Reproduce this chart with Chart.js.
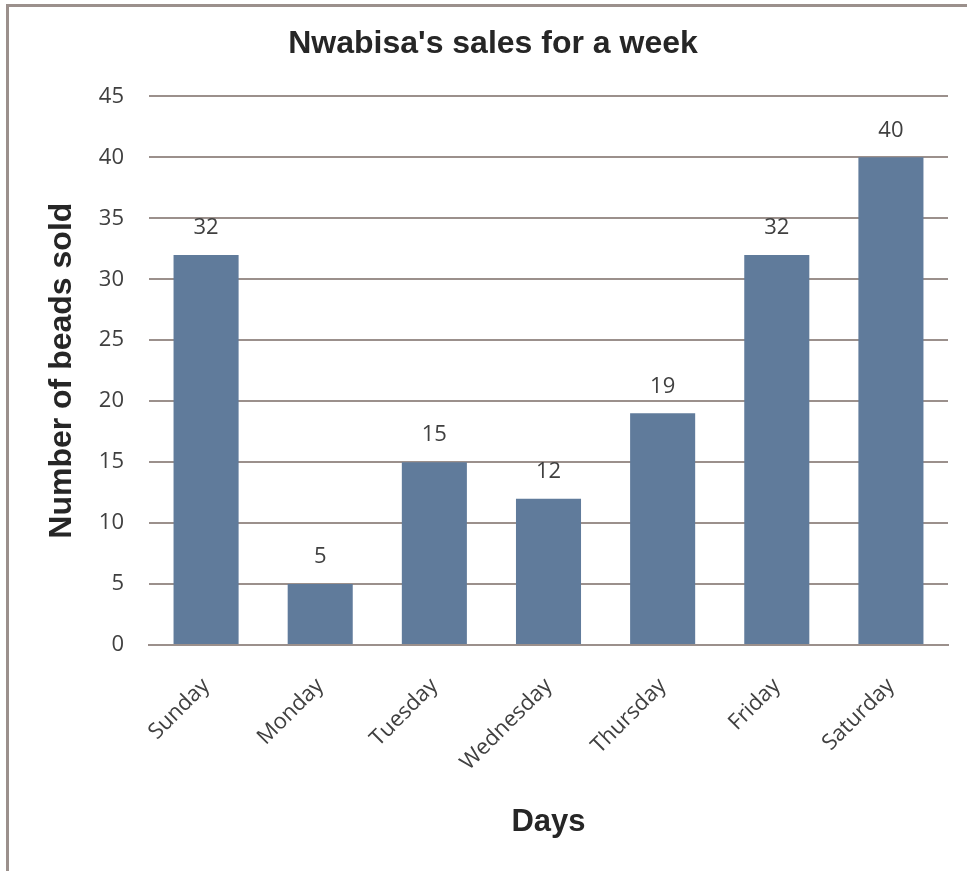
<!DOCTYPE html>
<html>
<head>
<meta charset="utf-8">
<script src="https://cdn.jsdelivr.net/npm/chart.js@4"></script>
<style>
  html, body { margin: 0; padding: 0; background: #fff; }
  #wrap { position: relative; width: 967px; height: 871px; }
  #frame { position: absolute; left: 6px; top: 4px; right: 0; bottom: 0;
           border-left: 3px solid #9b908c; border-top: 3px solid #9b908c; pointer-events: none; }
  canvas { position: absolute; left: 0; top: 0; }
</style>
</head>
<body>
<div id="wrap">
  <canvas id="salesChart" width="967" height="871"></canvas>
  <div id="frame"></div>
</div>
<script>
const days = ["Sunday", "Monday", "Tuesday", "Wednesday", "Thursday", "Friday", "Saturday"];
const beadsSold = [32, 5, 15, 12, 19, 32, 40];
const yTicks = [0, 5, 10, 15, 20, 25, 30, 35, 40, 45];

// draws the value above each bar
const valueLabels = {
  id: "valueLabels",
  afterDatasetsDraw(chart) {
    const ctx = chart.ctx;
    const meta = chart.getDatasetMeta(0);
    ctx.save();
    ctx.font = "22px 'Open Sans'";
    ctx.fillStyle = "#404040";
    ctx.textAlign = "center";
    ctx.textBaseline = "middle";
    meta.data.forEach((bar, i) => {
      ctx.fillText(beadsSold[i], bar.x, bar.y - 27);
    });
    ctx.restore();
  }
};

const ctx = document.getElementById("salesChart").getContext("2d");
new Chart(ctx, {
  type: "bar",
  data: {
    labels: days,
    datasets: [{
      label: "Number of beads sold",
      data: beadsSold,
      backgroundColor: "#607b9b",
      barPercentage: 0.57,
      categoryPercentage: 1
    }]
  },
  options: {
    responsive: false,
    animation: false,
    layout: { padding: { left: 38, right: 19, top: 0, bottom: 0 } },
    plugins: {
      legend: { display: false },
      tooltip: { enabled: false },
      title: {
        display: true,
        text: "Nwabisa's sales for a week",
        color: "#262626",
        font: { family: "'Liberation Sans', Arial", size: 32, weight: "bold" },
        padding: { top: 25, bottom: 33 }
      }
    },
    scales: {
      x: {
        grid: { display: false, drawTicks: false },
        border: { color: "#9b908c", width: 2 },
        ticks: {
          color: "#404040",
          font: { family: "'Open Sans'", size: 22 },
          maxRotation: 45,
          minRotation: 45,
          padding: 28
        },
        title: {
          display: true,
          text: "Days",
          color: "#262626",
          font: { family: "'Liberation Sans', Arial", size: 31, weight: "bold" },
          padding: { top: 10, bottom: 30 }
        },
        afterFit(scale) { scale.height = 226; }
      },
      y: {
        min: 0,
        max: 45,
        afterBuildTicks(scale) { scale.ticks = yTicks.map(v => ({ value: v })); },
        grid: { color: "#9b908c", lineWidth: 2, drawTicks: false },
        border: { display: false },
        ticks: {
          color: "#404040",
          font: { family: "'Open Sans'", size: 22 },
          padding: 25
        },
        title: {
          display: true,
          text: "Number of beads sold",
          color: "#262626",
          font: { family: "'Liberation Sans', Arial", size: 32, weight: "bold" },
          padding: { top: 5, bottom: 0 }
        },
        afterFit(scale) { scale.width = 111; }
      }
    }
  },
  plugins: [valueLabels]
});
</script>
</body>
</html>
